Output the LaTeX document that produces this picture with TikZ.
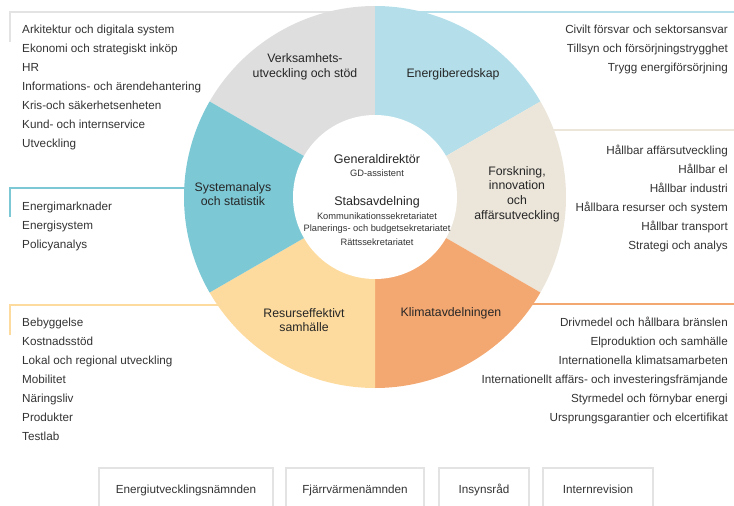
\documentclass[tikz,border=0pt]{standalone}
\usepackage{fontspec}
\setmainfont{Liberation Sans}
\usetikzlibrary{positioning}
\definecolor{vsgray}{HTML}{DEDEDE}
\definecolor{linegray}{HTML}{E3E3E3}
\definecolor{ebblue}{HTML}{B4DFEA}
\definecolor{fibeige}{HTML}{EBE5DA}
\definecolor{klorange}{HTML}{F4A871}
\definecolor{rsyellow}{HTML}{FDDB9F}
\definecolor{sateal}{HTML}{7DC8D5}
\definecolor{txtgray}{HTML}{333333}
\tikzset{
  item/.style={text=txtgray, font=\fontsize{11.7}{13}\selectfont, inner sep=0pt},
  itemL/.style={item, anchor=base west},
  itemR/.style={item, anchor=base east},
  unit/.style={text=black!85, font=\fontsize{12.3}{14.6}\selectfont, align=center, inner sep=0pt},
  head/.style={text=black!85, font=\fontsize{12.5}{14}\selectfont, inner sep=0pt},
  staff/.style={text=black!80, font=\fontsize{9.3}{11}\selectfont, inner sep=0pt},
  bar/.style={line width=2pt},
  board/.style={draw=linegray, line width=2pt, anchor=north west, minimum height=44pt,
    text height=8.5pt, text depth=2.5pt,
    text=txtgray, font=\fontsize{11.7}{13}\selectfont}
}

\begin{document}
\begin{tikzpicture}[x=1pt, y=-1pt]
  \clip (0,0) rectangle (734,506);
  \coordinate (ctr) at (375,197);
%% bracket lines
  \draw[bar, linegray] (10,42) -- (10,12) -- (375,12);
  \draw[bar, ebblue] (375,12) -- (734,12);
  \draw[bar, fibeige] (375,130) -- (734,130);
  \draw[bar, klorange] (375,304) -- (734,304);
  \draw[bar, sateal] (10,217) -- (10,188) -- (375,188);
  \draw[bar, rsyellow] (10,335) -- (10,305) -- (375,305);
%% ring
  \foreach \a/\b/\col in {90/150/vsgray, 30/90/ebblue, -30/30/fibeige,
      -90/-30/klorange, -150/-90/rsyellow, 150/210/sateal}
    \fill[\col] (ctr) -- ++(-\a:191) arc[start angle=-\a, end angle=-\b, radius=191] -- cycle;
  \fill[white] (ctr) circle[radius=82];
%% sector labels
  \node[unit] (vslab) at (305,67) {Verksamhets-\\utveckling och stöd};
  \node[unit] (eblab) at (453,74) {Energiberedskap};
  \node[unit] (filab) at (517,194) {Forskning,\\innovation\\och\\affärsutveckling};
  \node[unit] (kllab) at (451,313) {Klimatavdelningen};
  \node[unit] (rslab) at (304,320) {Resurseffektivt\\samhälle};
  \node[unit] (salab) at (233,194) {Systemanalys\\och statistik};
%% centre
  \node[head] (gd) at (377,159) {Generaldirektör};
  \node[staff] (gdass) at (377,173) {GD-assistent};
  \node[head] (stab) at (377,202) {Stabsavdelning};
  \node[staff] (kom) at (377,216) {Kommunikationssekretariatet};
  \node[staff] (plan) at (377,229) {Planerings- och budgetsekretariatet};
  \node[staff] (ratt) at (377,242) {Rättssekretariatet};
%% lists left
  \foreach \t [count=\i from 0] in {Arkitektur och digitala system, Ekonomi och strategiskt inköp,
      HR, Informations- och ärendehantering, Kris-och säkerhetsenheten,
      Kund- och internservice, Utveckling}
    \node[itemL] (vs\i) at (22,33+19*\i) {\t};
  \foreach \t [count=\i from 0] in {Energimarknader, Energisystem, Policyanalys}
    \node[itemL] (sa\i) at (22,210+19*\i) {\t};
  \foreach \t [count=\i from 0] in {Bebyggelse, Kostnadsstöd, Lokal och regional utveckling,
      Mobilitet, Näringsliv, Produkter, Testlab}
    \node[itemL] (rs\i) at (22,326+19*\i) {\t};
%% lists right
  \foreach \t [count=\i from 0] in {Civilt försvar och sektorsansvar,
      Tillsyn och försörjningstrygghet, Trygg energiförsörjning}
    \node[itemR] (eb\i) at (728,33+19*\i) {\t};
  \foreach \t [count=\i from 0] in {Hållbar affärsutveckling, Hållbar el, Hållbar industri,
      Hållbara resurser och system, Hållbar transport, Strategi och analys}
    \node[itemR] (fi\i) at (728,154+19*\i) {\t};
  \foreach \t [count=\i from 0] in {Drivmedel och hållbara bränslen, Elproduktion och samhälle,
      Internationella klimatsamarbeten, Internationellt affärs- och investeringsfrämjande,
      Styrmedel och förnybar energi, Ursprungsgarantier och elcertifikat}
    \node[itemR] (kl\i) at (728,326+19*\i) {\t};
%% boards
  \node[board, minimum width=174pt] (eun) at (98,467) {Energiutvecklingsnämnden};
  \node[board, minimum width=138pt] (fjv) at (285,467) {Fjärrvärmenämnden};
  \node[board, minimum width=90pt] (ins) at (438,467) {Insynsråd};
  \node[board, minimum width=110pt] (irv) at (542,467) {Internrevision};
\end{tikzpicture}
\end{document}
